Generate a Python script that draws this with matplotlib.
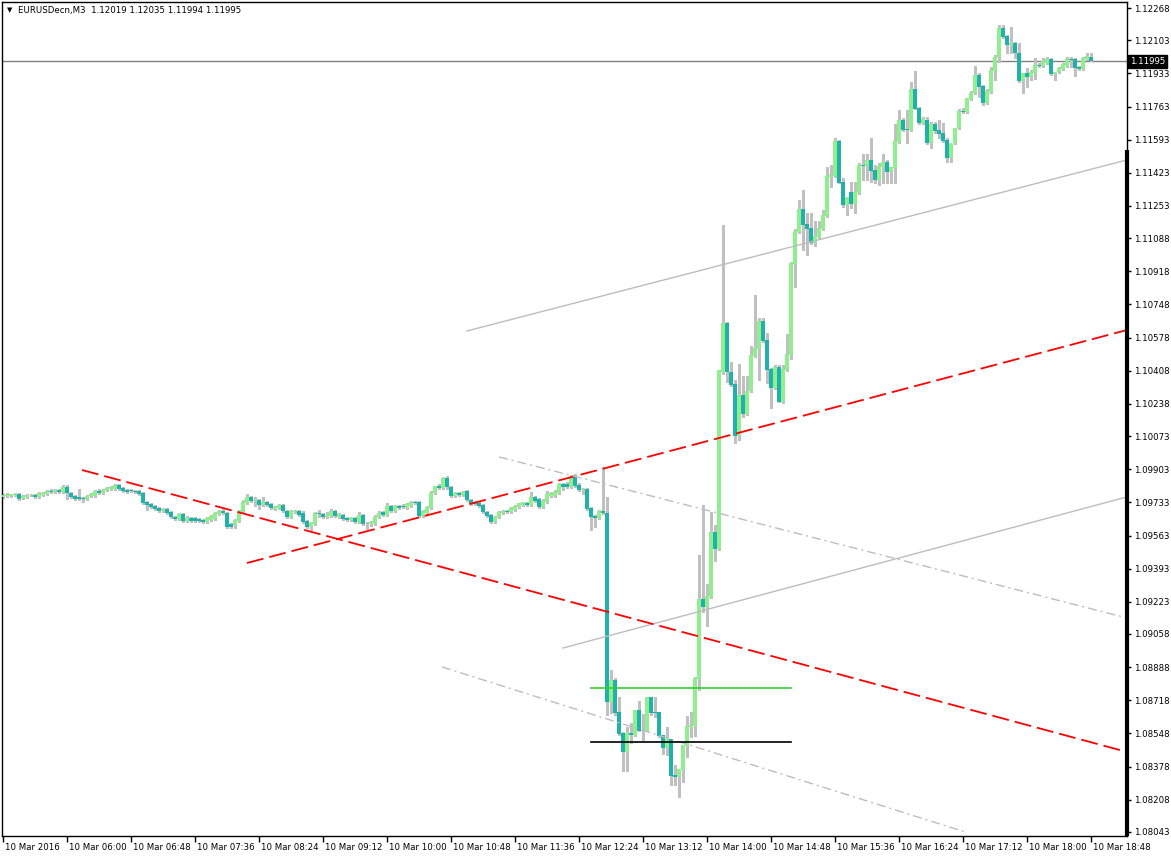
import numpy as np
import matplotlib
matplotlib.use("Agg")
import matplotlib.pyplot as plt
import matplotlib.transforms as mtransforms

plt.rcParams["lines.scale_dashes"] = False

# EURUSDecn M3, 10 Mar 2016, bars from 05:12 to 18:48
opens = [
    1.09761, 1.09766, 1.09766, 1.09769, 1.09777, 1.09756, 1.09761, 1.09771, 1.09771, 1.09761,
    1.09771, 1.09777, 1.09792, 1.09787, 1.09797, 1.09787, 1.09812, 1.09782, 1.09766, 1.09761,
    1.09756, 1.09751, 1.09766, 1.09766, 1.09792, 1.09782, 1.09797, 1.09802, 1.09802, 1.09823,
    1.09807, 1.09797, 1.09797, 1.09792, 1.09792, 1.09782, 1.09736, 1.09725, 1.09715, 1.09705,
    1.09689, 1.09700, 1.09684, 1.09659, 1.09648, 1.09674, 1.09638, 1.09654, 1.09654, 1.09648,
    1.09643, 1.09633, 1.09643, 1.09648, 1.09674, 1.09689, 1.09679, 1.09623, 1.09617, 1.09638,
    1.09684, 1.09730, 1.09761, 1.09741, 1.09746, 1.09720, 1.09736, 1.09725, 1.09700, 1.09705,
    1.09720, 1.09689, 1.09659, 1.09684, 1.09689, 1.09679, 1.09638, 1.09607, 1.09623, 1.09679,
    1.09674, 1.09659, 1.09664, 1.09689, 1.09659, 1.09669, 1.09654, 1.09643, 1.09654, 1.09633,
    1.09669, 1.09623, 1.09623, 1.09623, 1.09659, 1.09684, 1.09669, 1.09715, 1.09689, 1.09715,
    1.09715, 1.09705, 1.09715, 1.09736, 1.09736, 1.09664, 1.09679, 1.09705, 1.09782, 1.09818,
    1.09807, 1.09859, 1.09812, 1.09766, 1.09782, 1.09771, 1.09792, 1.09746, 1.09736, 1.09730,
    1.09720, 1.09684, 1.09669, 1.09633, 1.09659, 1.09679, 1.09689, 1.09684, 1.09695, 1.09710,
    1.09720, 1.09730, 1.09720, 1.09761, 1.09751, 1.09710, 1.09736, 1.09766, 1.09766, 1.09782,
    1.09828, 1.09828, 1.09812, 1.09864, 1.09823, 1.09797, 1.09802, 1.09705, 1.09664, 1.09654,
    1.09689, 1.09679, 1.08710, 1.08822, 1.08658, 1.08550, 1.08453, 1.08550, 1.08540, 1.08668,
    1.08560, 1.08560, 1.08735, 1.08658, 1.08658, 1.08540, 1.08473, 1.08520, 1.08335, 1.08325,
    1.08361, 1.08484, 1.08581, 1.08586, 1.08827, 1.09238, 1.09197, 1.09248, 1.09581, 1.09494,
    1.10402, 1.10653, 1.10402, 1.10340, 1.10073, 1.10284, 1.10186, 1.10304, 1.10484, 1.10519,
    1.10663, 1.10566, 1.10417, 1.10319, 1.10427, 1.10248, 1.10412, 1.10489, 1.10955, 1.11119,
    1.11237, 1.11160, 1.11140, 1.11063, 1.11094, 1.11135, 1.11201, 1.11401, 1.11407, 1.11586,
    1.11376, 1.11258, 1.11325, 1.11263, 1.11319, 1.11463, 1.11458, 1.11489, 1.11437, 1.11386,
    1.11453, 1.11478, 1.11427, 1.11448, 1.11581, 1.11694, 1.11648, 1.11643, 1.11853, 1.11755,
    1.11678, 1.11694, 1.11576, 1.11673, 1.11643, 1.11627, 1.11591, 1.11499, 1.11576, 1.11653,
    1.11740, 1.11735, 1.11801, 1.11832, 1.11924, 1.11868, 1.11781, 1.11837, 1.11945, 1.12017,
    1.12165, 1.12124, 1.12078, 1.12088, 1.12037, 1.11894, 1.11935, 1.11914, 1.11935, 1.11976,
    1.11971, 1.11986, 1.12007, 1.11929, 1.11940, 1.11955, 1.11971, 1.12007, 1.12007, 1.11965,
    1.11955, 1.12007, 1.12019,
]
highs = [
    1.09777, 1.09782, 1.09777, 1.09782, 1.09782, 1.09771, 1.09777, 1.09777, 1.09777, 1.09787,
    1.09787, 1.09797, 1.09802, 1.09802, 1.09802, 1.09823, 1.09823, 1.09787, 1.09771, 1.09802,
    1.09761, 1.09771, 1.09782, 1.09797, 1.09802, 1.09802, 1.09812, 1.09818, 1.09828, 1.09828,
    1.09812, 1.09802, 1.09802, 1.09797, 1.09797, 1.09787, 1.09741, 1.09730, 1.09720, 1.09710,
    1.09705, 1.09705, 1.09689, 1.09664, 1.09679, 1.09679, 1.09664, 1.09659, 1.09659, 1.09654,
    1.09648, 1.09659, 1.09669, 1.09684, 1.09695, 1.09700, 1.09684, 1.09628, 1.09648, 1.09695,
    1.09746, 1.09777, 1.09766, 1.09761, 1.09751, 1.09761, 1.09741, 1.09730, 1.09715, 1.09725,
    1.09725, 1.09695, 1.09695, 1.09695, 1.09695, 1.09689, 1.09643, 1.09633, 1.09684, 1.09695,
    1.09679, 1.09684, 1.09700, 1.09695, 1.09679, 1.09674, 1.09659, 1.09659, 1.09659, 1.09684,
    1.09674, 1.09633, 1.09638, 1.09669, 1.09689, 1.09689, 1.09730, 1.09720, 1.09720, 1.09720,
    1.09725, 1.09730, 1.09741, 1.09741, 1.09741, 1.09695, 1.09715, 1.09792, 1.09818, 1.09828,
    1.09864, 1.09869, 1.09818, 1.09787, 1.09787, 1.09792, 1.09797, 1.09751, 1.09741, 1.09736,
    1.09725, 1.09689, 1.09674, 1.09664, 1.09689, 1.09695, 1.09695, 1.09710, 1.09720, 1.09730,
    1.09736, 1.09736, 1.09787, 1.09766, 1.09756, 1.09751, 1.09792, 1.09787, 1.09797, 1.09833,
    1.09833, 1.09838, 1.09874, 1.09879, 1.09833, 1.09807, 1.09807, 1.09710, 1.09669, 1.09695,
    1.09914, 1.09761, 1.08874, 1.08833, 1.08735, 1.08555, 1.08581, 1.08602, 1.08668, 1.08715,
    1.08648, 1.08735, 1.08735, 1.08735, 1.08658, 1.08540, 1.08581, 1.08520, 1.08386, 1.08366,
    1.08489, 1.08637, 1.08658, 1.08837, 1.09463, 1.09720, 1.09315, 1.09684, 1.09617, 1.10412,
    1.11155, 1.10658, 1.10453, 1.10361, 1.10443, 1.10381, 1.10381, 1.10535, 1.10796, 1.10678,
    1.10678, 1.10601, 1.10422, 1.10437, 1.10437, 1.10437, 1.10596, 1.10966, 1.11135, 1.11284,
    1.11335, 1.11217, 1.11217, 1.11176, 1.11176, 1.11232, 1.11453, 1.11463, 1.11601, 1.11591,
    1.11396, 1.11299, 1.11376, 1.11376, 1.11473, 1.11519, 1.11519, 1.11601, 1.11463, 1.11473,
    1.11519, 1.11489, 1.11437, 1.11673, 1.11745, 1.11704, 1.11745, 1.11888, 1.11945, 1.11760,
    1.11709, 1.11709, 1.11683, 1.11683, 1.11694, 1.11678, 1.11601, 1.11509, 1.11591, 1.11750,
    1.11755, 1.11806, 1.11843, 1.11971, 1.11935, 1.11873, 1.11853, 1.11965, 1.12027, 1.12181,
    1.12181, 1.12129, 1.12171, 1.12094, 1.12088, 1.11935, 1.11960, 1.11950, 1.12012, 1.11986,
    1.12012, 1.12017, 1.12012, 1.11940, 1.11965, 1.11986, 1.12017, 1.12017, 1.12012, 1.11971,
    1.12017, 1.12037, 1.12035,
]
lows = [
    1.09756, 1.09761, 1.09761, 1.09766, 1.09746, 1.09751, 1.09756, 1.09766, 1.09756, 1.09756,
    1.09766, 1.09771, 1.09782, 1.09782, 1.09782, 1.09782, 1.09751, 1.09756, 1.09746, 1.09746,
    1.09736, 1.09746, 1.09761, 1.09761, 1.09777, 1.09777, 1.09792, 1.09797, 1.09797, 1.09797,
    1.09787, 1.09782, 1.09787, 1.09782, 1.09771, 1.09725, 1.09695, 1.09705, 1.09695, 1.09684,
    1.09684, 1.09674, 1.09654, 1.09643, 1.09643, 1.09633, 1.09633, 1.09633, 1.09633, 1.09633,
    1.09628, 1.09628, 1.09638, 1.09643, 1.09669, 1.09674, 1.09602, 1.09602, 1.09602, 1.09633,
    1.09679, 1.09725, 1.09736, 1.09715, 1.09700, 1.09715, 1.09715, 1.09700, 1.09695, 1.09700,
    1.09684, 1.09654, 1.09654, 1.09679, 1.09664, 1.09628, 1.09602, 1.09592, 1.09617, 1.09659,
    1.09654, 1.09654, 1.09659, 1.09659, 1.09654, 1.09643, 1.09638, 1.09638, 1.09628, 1.09628,
    1.09617, 1.09597, 1.09612, 1.09617, 1.09654, 1.09664, 1.09664, 1.09684, 1.09684, 1.09700,
    1.09705, 1.09700, 1.09710, 1.09725, 1.09659, 1.09659, 1.09674, 1.09700, 1.09777, 1.09802,
    1.09802, 1.09802, 1.09761, 1.09761, 1.09766, 1.09766, 1.09741, 1.09720, 1.09720, 1.09710,
    1.09679, 1.09659, 1.09628, 1.09628, 1.09654, 1.09674, 1.09679, 1.09679, 1.09689, 1.09705,
    1.09715, 1.09715, 1.09715, 1.09736, 1.09705, 1.09705, 1.09730, 1.09761, 1.09761, 1.09777,
    1.09797, 1.09807, 1.09807, 1.09812, 1.09792, 1.09777, 1.09695, 1.09592, 1.09607, 1.09648,
    1.09674, 1.08643, 1.08653, 1.08643, 1.08540, 1.08357, 1.08357, 1.08499, 1.08535, 1.08560,
    1.08514, 1.08560, 1.08643, 1.08632, 1.08530, 1.08443, 1.08438, 1.08284, 1.08284, 1.08222,
    1.08299, 1.08427, 1.08530, 1.08535, 1.08771, 1.09171, 1.09099, 1.09243, 1.09433, 1.09489,
    1.10391, 1.10350, 1.10330, 1.10037, 1.10053, 1.10171, 1.10181, 1.10299, 1.10479, 1.10361,
    1.10555, 1.10345, 1.10217, 1.10314, 1.10248, 1.10243, 1.10407, 1.10468, 1.10837, 1.11114,
    1.11027, 1.11002, 1.11058, 1.11047, 1.11089, 1.11130, 1.11196, 1.11350, 1.11402, 1.11371,
    1.11248, 1.11207, 1.11243, 1.11217, 1.11314, 1.11386, 1.11386, 1.11376, 1.11371, 1.11360,
    1.11371, 1.11371, 1.11371, 1.11371, 1.11576, 1.11638, 1.11576, 1.11638, 1.11750, 1.11673,
    1.11673, 1.11571, 1.11550, 1.11627, 1.11601, 1.11581, 1.11478, 1.11478, 1.11571, 1.11648,
    1.11730, 1.11730, 1.11796, 1.11827, 1.11812, 1.11771, 1.11776, 1.11832, 1.11899, 1.11991,
    1.12114, 1.12037, 1.12037, 1.12012, 1.11889, 1.11832, 1.11863, 1.11899, 1.11904, 1.11965,
    1.11965, 1.11981, 1.11924, 1.11899, 1.11935, 1.11950, 1.11965, 1.11965, 1.11919, 1.11950,
    1.11950, 1.12002, 1.11994,
]
closes = [
    1.09771, 1.09771, 1.09774, 1.09777, 1.09751, 1.09766, 1.09771, 1.09772, 1.09761, 1.09782,
    1.09782, 1.09792, 1.09787, 1.09797, 1.09787, 1.09812, 1.09782, 1.09761, 1.09751, 1.09751,
    1.09751, 1.09766, 1.09777, 1.09792, 1.09782, 1.09797, 1.09807, 1.09812, 1.09823, 1.09802,
    1.09792, 1.09787, 1.09792, 1.09787, 1.09777, 1.09730, 1.09720, 1.09710, 1.09700, 1.09689,
    1.09700, 1.09679, 1.09659, 1.09648, 1.09674, 1.09638, 1.09654, 1.09638, 1.09638, 1.09638,
    1.09633, 1.09654, 1.09664, 1.09679, 1.09689, 1.09679, 1.09607, 1.09607, 1.09643, 1.09689,
    1.09736, 1.09761, 1.09741, 1.09746, 1.09720, 1.09736, 1.09720, 1.09705, 1.09710, 1.09720,
    1.09689, 1.09659, 1.09689, 1.09689, 1.09669, 1.09633, 1.09607, 1.09628, 1.09679, 1.09674,
    1.09659, 1.09669, 1.09689, 1.09664, 1.09674, 1.09648, 1.09643, 1.09654, 1.09633, 1.09669,
    1.09623, 1.09622, 1.09633, 1.09659, 1.09679, 1.09669, 1.09715, 1.09689, 1.09715, 1.09705,
    1.09710, 1.09725, 1.09736, 1.09730, 1.09664, 1.09689, 1.09710, 1.09782, 1.09818, 1.09807,
    1.09859, 1.09812, 1.09766, 1.09782, 1.09771, 1.09787, 1.09746, 1.09725, 1.09725, 1.09715,
    1.09684, 1.09664, 1.09633, 1.09659, 1.09684, 1.09689, 1.09684, 1.09705, 1.09715, 1.09730,
    1.09733, 1.09720, 1.09761, 1.09741, 1.09710, 1.09741, 1.09777, 1.09782, 1.09787, 1.09828,
    1.09812, 1.09812, 1.09864, 1.09818, 1.09797, 1.09802, 1.09700, 1.09659, 1.09654, 1.09689,
    1.09679, 1.08710, 1.08822, 1.08653, 1.08545, 1.08453, 1.08550, 1.08540, 1.08668, 1.08560,
    1.08566, 1.08735, 1.08653, 1.08653, 1.08535, 1.08473, 1.08520, 1.08330, 1.08325, 1.08366,
    1.08489, 1.08586, 1.08591, 1.08832, 1.09238, 1.09197, 1.09253, 1.09581, 1.09494, 1.10412,
    1.10653, 1.10402, 1.10335, 1.10073, 1.10284, 1.10186, 1.10304, 1.10489, 1.10525, 1.10663,
    1.10560, 1.10412, 1.10319, 1.10427, 1.10248, 1.10417, 1.10494, 1.10960, 1.11124, 1.11237,
    1.11155, 1.11135, 1.11063, 1.11099, 1.11140, 1.11207, 1.11407, 1.11412, 1.11586, 1.11371,
    1.11258, 1.11294, 1.11263, 1.11325, 1.11463, 1.11458, 1.11489, 1.11432, 1.11386, 1.11458,
    1.11478, 1.11427, 1.11453, 1.11586, 1.11694, 1.11643, 1.11643, 1.11853, 1.11750, 1.11678,
    1.11699, 1.11576, 1.11673, 1.11637, 1.11622, 1.11586, 1.11499, 1.11576, 1.11653, 1.11740,
    1.11735, 1.11806, 1.11832, 1.11924, 1.11863, 1.11781, 1.11842, 1.11950, 1.12017, 1.12165,
    1.12119, 1.12078, 1.12088, 1.12037, 1.11894, 1.11935, 1.11914, 1.11940, 1.11976, 1.11971,
    1.11996, 1.12007, 1.11929, 1.11940, 1.11960, 1.11981, 1.12007, 1.12002, 1.11960, 1.11955,
    1.12012, 1.12022, 1.11995,
]

x_labels = ["10 Mar 2016", "10 Mar 06:00", "10 Mar 06:48", "10 Mar 07:36", "10 Mar 08:24",
            "10 Mar 09:12", "10 Mar 10:00", "10 Mar 10:48", "10 Mar 11:36", "10 Mar 12:24",
            "10 Mar 13:12", "10 Mar 14:00", "10 Mar 14:48", "10 Mar 15:36", "10 Mar 16:24",
            "10 Mar 17:12", "10 Mar 18:00", "10 Mar 18:48"]
x_label_bars = list(range(0, 273, 16))

y_ticks = [1.12268, 1.12103, 1.11933, 1.11763, 1.11593, 1.11423, 1.11253, 1.11088, 1.10918,
           1.10748, 1.10578, 1.10408, 1.10238, 1.10073, 1.09903, 1.09733, 1.09563, 1.09393,
           1.09223, 1.09058, 1.08888, 1.08718, 1.08548, 1.08378, 1.08208, 1.08043]

bid = 1.11995

# trend lines: (bar, price) start -> end
grey_up_1 = [(116, 1.10612), (281, 1.11489)]
grey_up_2 = [(140, 1.08986), (281, 1.09761)]
red_up = [(61, 1.09422), (281, 1.10617)]
red_down = [(19.75, 1.09899), (281, 1.08453)]
grey_dd_1 = [(124, 1.09966), (281, 1.09140)]
grey_dd_2 = [(109.75, 1.08889), (240.5, 1.08043)]
level_bars = [147, 197]
green_level = 1.08781
black_level = 1.08504

bull = "#90EE90"
bear = "#20B2AA"
wick = "#C0C0C0"
px = 0.72  # one pixel in points

fig = plt.figure(figsize=(11.71, 8.56), dpi=100)
ax = fig.add_axes([2/1171, 20/856, 1125/1171, 834/856])
ax.set_xlim(-0.25, 281)
ax.set_ylim(1.08022, 1.12299)

o = np.array(opens); h = np.array(highs); l = np.array(lows); c = np.array(closes)
idx = np.arange(len(o))
up = c >= o

ax.vlines(idx, l, h, color=wick, lw=1, zorder=2, antialiased=False)
body_lo = np.minimum(o, c)
body_h = np.maximum(np.abs(c - o), 0.00002)
ax.bar(idx[up], body_h[up], bottom=body_lo[up], width=0.78, color=bull, lw=0, zorder=3, antialiased=False)
ax.bar(idx[~up], body_h[~up], bottom=body_lo[~up], width=0.78, color=bear, lw=0, zorder=3, antialiased=False)

ax.axhline(bid, color="#808080", lw=1, zorder=1)

for seg in (grey_up_1, grey_up_2):
    ax.plot([seg[0][0], seg[1][0]], [seg[0][1], seg[1][1]], color="#BDBDBD", lw=1, zorder=4)
for seg in (red_up, red_down):
    ax.plot([seg[0][0], seg[1][0]], [seg[0][1], seg[1][1]], color="red", lw=1.3,
            dashes=(17 * px, 6 * px), zorder=4)
for seg in (grey_dd_1, grey_dd_2):
    ax.plot([seg[0][0], seg[1][0]], [seg[0][1], seg[1][1]], color="#BDBDBD", lw=1,
            dashes=(9 * px, 4 * px, 2 * px, 4 * px), zorder=4)
ax.plot(level_bars, [green_level] * 2, color="#32CD32", lw=1.2, zorder=4)
ax.plot(level_bars, [black_level] * 2, color="black", lw=1.2, zorder=4)

font = "DejaVu Sans"
fs = 6.2
ax.yaxis.tick_right()
ax.set_yticks(y_ticks)
ax.set_yticklabels([f"{v:.5f}" for v in y_ticks], fontsize=fs, family=font)
ax.tick_params(axis="y", length=3, width=1, pad=2, direction="out")
ax.set_xticks(x_label_bars)
ax.set_xticklabels(x_labels, fontsize=fs, family=font, ha="left")
ax.tick_params(axis="x", length=4, width=1, pad=1, direction="out")
off = mtransforms.ScaledTranslation(2/100, 0, fig.dpi_scale_trans)
for t in ax.get_xticklabels():
    t.set_transform(t.get_transform() + off)

for s in ax.spines.values():
    s.set_linewidth(1)
    s.set_color("black")

# thick section of the right border
ax.plot([1, 1], [0, 686/834], transform=ax.transAxes, color="black", lw=3,
        clip_on=False, zorder=6, solid_capstyle="butt")

# bid price tag
ax.text(1.0025, bid, f"{bid:.5f}", transform=ax.get_yaxis_transform(), fontsize=fs,
        family=font, color="white", va="center", ha="left", zorder=7,
        bbox=dict(boxstyle="square,pad=0.25", fc="black", ec="black"))

fig.text(7/1171, 1 - 10/856, "\u25BC", fontsize=5, family=font, va="center", ha="left")
fig.text(18/1171, 1 - 10/856, "EURUSDecn,M3  1.12019 1.12035 1.11994 1.11995",
         fontsize=fs, family=font, va="center", ha="left")

fig.savefig("out.png", dpi=100, facecolor="white")
